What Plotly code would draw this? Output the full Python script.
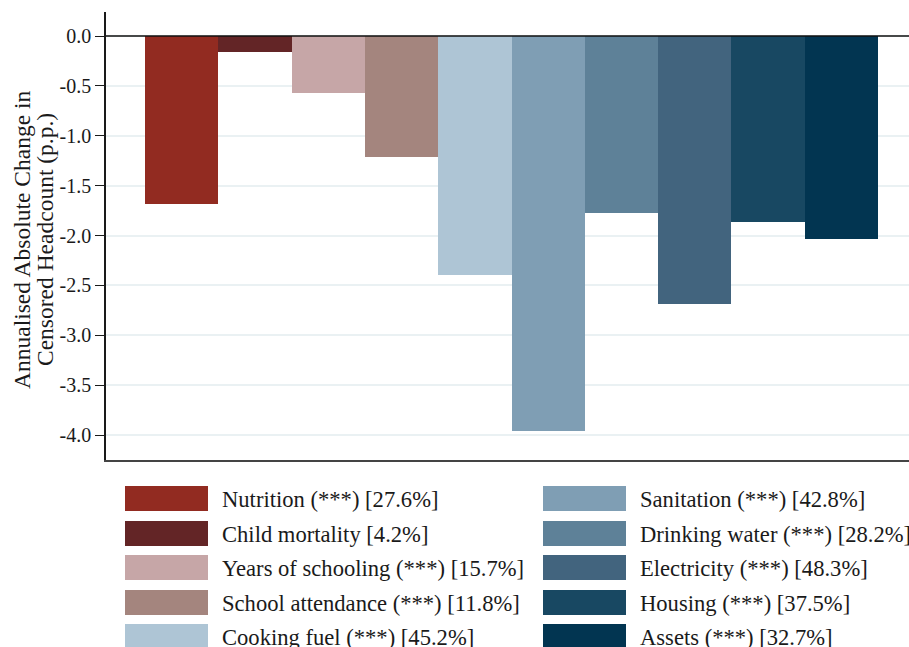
import plotly.graph_objects as go

categories = ["Nutrition", "Child mortality", "Years of schooling", "School attendance",
              "Cooking fuel", "Sanitation", "Drinking water", "Electricity", "Housing", "Assets"]
values = [-1.68, -0.165, -0.575, -1.21, -2.40, -3.96, -1.77, -2.69, -1.86, -2.035]
significance = ["(***)", "", "(***)", "(***)", "(***)", "(***)", "(***)", "(***)", "(***)", "(***)"]
shares = ["27.6%", "4.2%", "15.7%", "11.8%", "45.2%", "42.8%", "28.2%", "48.3%", "37.5%", "32.7%"]
colors = ["#922b21", "#632526", "#c6a6a7", "#a4857e", "#aec5d5",
          "#7f9eb4", "#5e8198", "#42647e", "#184862", "#023551"]
ytick_vals = [0.0, -0.5, -1.0, -1.5, -2.0, -2.5, -3.0, -3.5, -4.0]
ytick_text = ["%.1f" % v for v in ytick_vals]
ytitle_lines = ["Annualised Absolute Change in", "Censored Headcount (p.p.)"]

W, H = 909, 647
FONT = "Liberation Serif"

fig = go.Figure()

xpos = list(range(len(categories)))
fig.add_trace(go.Bar(
    x=xpos, y=values, width=1.0,
    marker=dict(color=colors, line=dict(width=0)),
    showlegend=False, xaxis="x", yaxis="y",
))

# custom legend drawn on a pixel-scaled helper axis
row_top, row_pitch, sw_h, sw_w = 498.5, 34.5, 25, 83
col_x = [125, 543]
text_dx = 95
leg_y, leg_base, annotations = [], [], []
for i, cat in enumerate(categories):
    col, row = divmod(i, 5)
    yc = row_top + row * row_pitch
    leg_y.append(yc)
    leg_base.append(col_x[col])
    label = cat + (" " + significance[i] if significance[i] else "") + " [" + shares[i] + "]"
    annotations.append(dict(
        x=col_x[col] + text_dx, y=yc + 1, xref="x2", yref="y2", text=label,
        showarrow=False, xanchor="left", yanchor="middle",
        font=dict(family=FONT, size=22.6, color="#1a1a1a"),
    ))
fig.add_trace(go.Bar(
    y=leg_y, x=[sw_w] * len(leg_y), base=leg_base, width=sw_h, orientation="h",
    marker=dict(color=colors, line=dict(width=0)),
    showlegend=False, xaxis="x2", yaxis="y2", hoverinfo="skip",
))

for j, (line, xc) in enumerate(zip(ytitle_lines, [22, 45])):
    annotations.append(dict(
        x=xc / W, y=(H - 240) / H, xref="paper", yref="paper",
        text=line, textangle=-90, showarrow=False,
        xanchor="center", yanchor="middle",
        font=dict(family=FONT, size=23.5, color="#1a1a1a"),
    ))

x_left, x_right = 106, 909
bar_left, bar_w = 145, 73.3
x0 = -0.5 - (bar_left - x_left) / bar_w
x1 = x0 + (x_right - x_left) / bar_w

y_top_px, y_zero_px, y_bot_px, ppu = 12, 36, 459.5, 99.75
y_hi = (y_zero_px - y_top_px) / ppu
y_lo = -(y_bot_px - y_zero_px) / ppu

fig.update_layout(
    width=W, height=H,
    margin=dict(l=0, r=0, t=0, b=0),
    paper_bgcolor="white", plot_bgcolor="white",
    bargap=0, barmode="overlay", showlegend=False,
    font=dict(family=FONT, color="#1a1a1a"),
    xaxis=dict(
        domain=[x_left / W, 1], range=[x0, x1],
        showticklabels=False, ticks="", showgrid=False, zeroline=False,
        showline=True, linecolor="#444444", linewidth=2, fixedrange=True,
    ),
    yaxis=dict(
        domain=[(H - y_bot_px) / H, (H - y_top_px) / H], range=[y_lo, y_hi],
        tickvals=ytick_vals, ticktext=ytick_text,
        ticks="outside", ticklen=9, tickwidth=1.3, tickcolor="#1a1a1a",
        tickfont=dict(family=FONT, size=20, color="#1a1a1a"),
        showgrid=True, gridcolor="#eaf1f3", gridwidth=1.5,
        zeroline=False, showline=True, linecolor="#1a1a1a", linewidth=1.5,
        fixedrange=True,
    ),
    xaxis2=dict(domain=[0, 1], range=[0, W], visible=False, anchor="y2", fixedrange=True),
    yaxis2=dict(domain=[0, (H - 472) / H], range=[H, 472], visible=False, anchor="x2", fixedrange=True),
    annotations=annotations,
    shapes=[dict(type="line", xref="x domain", yref="y", x0=0, x1=1, y0=0, y1=0,
                 line=dict(color="#111111", width=1.5), layer="above")],
)

fig.write_html("out.html", config={"displayModeBar": False},
               post_script="document.body.style.margin='0';document.body.style.overflow='hidden';")
